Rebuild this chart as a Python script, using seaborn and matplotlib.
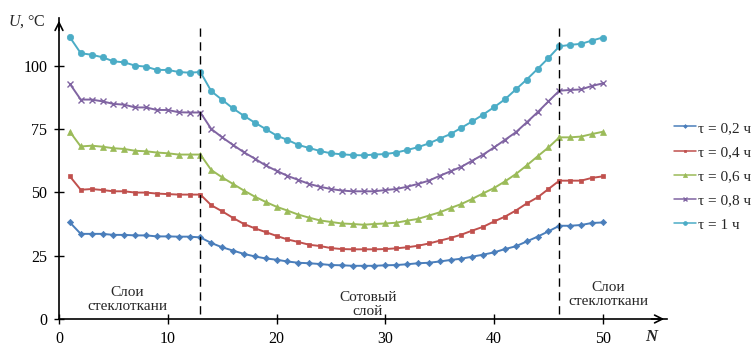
import numpy as np
import pandas as pd
import matplotlib
matplotlib.use("Agg")
import matplotlib.pyplot as plt
import seaborn as sns

N = list(range(1, 51))

u_02 = [38.1, 33.6, 33.6, 33.6, 33.2, 33.2, 33.0, 33.0, 32.6, 32.6, 32.5, 32.5, 32.2,
        30.0, 28.3, 27.0, 25.7, 24.7, 23.9, 23.4, 22.7, 22.2, 22.0, 21.7, 21.3, 21.2,
        21.0, 21.0, 21.0, 21.2, 21.3, 21.6, 22.0, 22.2, 22.7, 23.3, 23.8, 24.6, 25.4,
        26.3, 27.6, 28.7, 30.6, 32.5, 34.6, 36.8, 36.8, 37.1, 37.9, 38.1]
u_04 = [56.3, 51.0, 51.3, 50.9, 50.4, 50.4, 49.9, 49.9, 49.5, 49.3, 49.1, 49.1, 49.1,
        44.9, 42.5, 39.9, 37.5, 35.8, 34.3, 32.8, 31.4, 30.4, 29.3, 28.8, 28.0, 27.6,
        27.5, 27.5, 27.5, 27.6, 27.9, 28.3, 28.9, 29.8, 30.9, 32.0, 33.3, 34.9, 36.4,
        38.5, 40.4, 42.8, 45.6, 48.0, 51.3, 54.6, 54.6, 54.6, 55.7, 56.3]
u_06 = [73.9, 68.1, 68.4, 68.0, 67.4, 67.1, 66.4, 66.2, 65.7, 65.4, 64.9, 64.9, 64.9,
        58.8, 55.9, 53.3, 50.7, 48.3, 46.2, 44.3, 42.8, 41.2, 40.0, 38.9, 38.3, 37.7,
        37.5, 37.2, 37.5, 37.7, 38.0, 38.8, 39.5, 40.8, 42.1, 43.8, 45.4, 47.4, 49.6,
        51.7, 54.3, 57.2, 60.6, 64.2, 67.7, 71.7, 71.7, 72.0, 73.0, 73.9]
u_08 = [92.8, 86.6, 86.6, 85.9, 84.9, 84.6, 83.5, 83.5, 82.5, 82.5, 81.6, 81.5, 81.5,
        75.0, 71.7, 68.7, 65.8, 63.3, 60.6, 58.5, 56.5, 54.9, 53.3, 52.2, 51.3, 50.7,
        50.4, 50.4, 50.4, 50.9, 51.3, 52.2, 53.3, 54.6, 56.5, 58.3, 60.1, 62.5, 64.9,
        67.7, 70.7, 73.7, 77.6, 81.6, 85.9, 90.1, 90.4, 90.6, 92.0, 93.0]
u_10 = [111.2, 104.9, 104.3, 103.3, 101.7, 101.3, 100.0, 99.6, 98.3, 98.3, 97.5, 97.2, 97.5,
        89.9, 86.5, 83.1, 80.2, 77.5, 75.0, 72.4, 70.7, 68.7, 67.5, 66.3, 65.4, 65.0,
        64.7, 64.6, 64.9, 65.1, 65.7, 66.7, 67.8, 69.3, 71.2, 73.0, 75.5, 78.0, 80.7,
        83.6, 86.7, 90.6, 94.5, 98.7, 103.0, 107.6, 108.2, 108.6, 109.9, 111.1]

labels = ["τ = 0,2 ч", "τ = 0,4 ч", "τ = 0,6 ч", "τ = 0,8 ч", "τ = 1 ч"]
series = [u_02, u_04, u_06, u_08, u_10]
colors = ["#4a7ebb", "#c0504d", "#9bbb59", "#8064a2", "#4bacc6"]
markers = ["D", "s", "^", "x", "o"]
msizes = [3.2, 3.2, 5.0, 4.5, 4.6]

x_ticks = [0, 10, 20, 30, 40, 50]
y_ticks = [0, 25, 50, 75, 100]
boundaries = [13, 46]

sns.set_theme(style="white")
plt.rcParams["font.family"] = ["Liberation Serif", "DejaVu Serif"]
plt.rcParams["mathtext.fontset"] = "custom"
plt.rcParams["mathtext.rm"] = "Liberation Serif"
plt.rcParams["mathtext.it"] = "Liberation Serif:italic"
plt.rcParams["mathtext.bf"] = "Liberation Serif:bold:italic"

fig = plt.figure(figsize=(7.52, 3.46), dpi=100)
ax = fig.add_axes([59 / 752, 27 / 346, 608 / 752, 301 / 346])

for vals, lab, c, m, ms in zip(series, labels, colors, markers, msizes):
    df = pd.DataFrame({"N": N, "U": vals})
    sns.lineplot(data=df, x="N", y="U", color=c, marker=m, markersize=ms,
                 markeredgecolor=c, markeredgewidth=1.0 if m == "x" else 0.5,
                 linewidth=1.4, label=lab, ax=ax, legend=False)

for b in boundaries:
    ax.plot([b, b], [2, 115], color="black", linestyle=(0, (6, 4)), linewidth=1.0, zorder=5)

ax.set_xlim(0, 55.9)
ax.set_ylim(0, 118.8)
ax.set_xticks(x_ticks)
ax.set_yticks(y_ticks)
ax.set_xlabel("")
ax.set_ylabel("")
for s in ["top", "right"]:
    ax.spines[s].set_visible(False)
for s in ["left", "bottom"]:
    ax.spines[s].set_color("black")
    ax.spines[s].set_linewidth(1.2)
ax.tick_params(axis="both", direction="inout", length=7, width=1.0, colors="black",
               labelsize=11.5, bottom=True, left=True)
ax.tick_params(axis="x", pad=5)
ax.tick_params(axis="y", pad=5)

# arrowheads
ax.annotate("", xy=(1.0, 0), xycoords="axes fraction", xytext=(0.97, 0),
            arrowprops=dict(arrowstyle="->", color="black", lw=1.2, mutation_scale=14),
            annotation_clip=False)
ax.annotate("", xy=(0, 1.0), xycoords="axes fraction", xytext=(0, 0.95),
            arrowprops=dict(arrowstyle="->", color="black", lw=1.2, mutation_scale=14),
            annotation_clip=False)

fig.text(8 / 752, 1 - 22 / 346, r"$U$, °C", fontsize=11.5, va="center", ha="left")
fig.text(652 / 752, 1 - 337 / 346, r"$\mathbf{N}$", fontsize=12, va="center", ha="center")

ax.text(6.3, 7.8, "Слои\nстеклоткани", ha="center", va="center", fontsize=11,
        linespacing=1.1)
ax.text(28.4, 5.8, "Сотовый\nслой", ha="center", va="center", fontsize=11,
        linespacing=1.1)
ax.text(50.5, 9.8, "Слои\nстеклоткани", ha="center", va="center", fontsize=11,
        linespacing=1.1, clip_on=False)

handles, labs = ax.get_legend_handles_labels()
leg = fig.legend(handles, labs, loc="upper left", bbox_to_anchor=(674 / 752, 1 - 121 / 346),
                 frameon=False, fontsize=11, handlelength=1.45, handletextpad=0.1,
                 labelspacing=0.69, borderaxespad=0, borderpad=0, markerscale=0.6)
for h in leg.legend_handles:
    h.set_linewidth(1.1)

fig.savefig("out.png", dpi=100)
